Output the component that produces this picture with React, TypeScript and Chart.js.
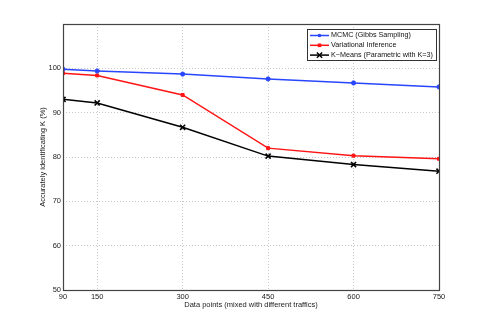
import React, { useEffect, useRef } from "react";
import { Chart, registerables } from "chart.js";

Chart.register(...registerables);

const xValues = [90, 150, 300, 450, 600, 750];
const mcmc = [99.8, 99.4, 98.7, 97.6, 96.7, 95.8];
const variational = [98.9, 98.4, 94.0, 82.0, 80.3, 79.6];
const kmeans = [93.0, 92.2, 86.7, 80.2, 78.3, 76.8];
const seriesLabels = [
  "MCMC (Gibbs Sampling)",
  "Variational Inference",
  "K\u2212Means (Parametric with K=3)",
];
const xTicks = [90, 150, 300, 450, 600, 750];
const yTicks = [50, 60, 70, 80, 90, 100, 110];

const FONT = "'Liberation Sans', Arial, Helvetica, sans-serif";

const boxPlugin = {
  id: "boxAndLegend",
  afterDraw(chart: any) {
    const { ctx, chartArea } = chart;
    const { left, right, top, bottom } = chartArea;
    ctx.save();
    ctx.strokeStyle = "#444";
    ctx.lineWidth = 1.2;
    ctx.strokeRect(Math.round(left) + 0.5, Math.round(top) + 0.5, Math.round(right - left), Math.round(bottom - top));
    const bx = 307.5, by = 29.5, bw = 129, bh = 31;
    ctx.fillStyle = "#fff";
    ctx.fillRect(bx, by, bw, bh);
    ctx.strokeStyle = "#333";
    ctx.lineWidth = 1;
    ctx.strokeRect(bx, by, bw, bh);
    ctx.font = `7.2px ${FONT}`;
    ctx.textBaseline = "middle";
    chart.data.datasets.forEach((ds: any, i: number) => {
      const y = 35.5 + i * 9.8;
      ctx.strokeStyle = ds.borderColor;
      ctx.lineWidth = 1.5;
      ctx.beginPath();
      ctx.moveTo(310, y);
      ctx.lineTo(329, y);
      ctx.stroke();
      const cx = 319.5;
      ctx.fillStyle = ds.borderColor;
      if (ds.pointStyle === "circle") {
        ctx.beginPath();
        ctx.arc(cx, y, 1.8, 0, Math.PI * 2);
        ctx.fill();
      } else if (ds.pointStyle === "rect") {
        ctx.fillRect(cx - 1.8, y - 1.8, 3.6, 3.6);
      } else {
        ctx.lineWidth = 1.5;
        ctx.beginPath();
        ctx.moveTo(cx - 2.6, y - 2.6);
        ctx.lineTo(cx + 2.6, y + 2.6);
        ctx.moveTo(cx - 2.6, y + 2.6);
        ctx.lineTo(cx + 2.6, y - 2.6);
        ctx.stroke();
      }
      ctx.fillStyle = "#111";
      ctx.textAlign = "left";
      ctx.fillText(ds.label, 331, y);
    });
    ctx.restore();
  },
};

export default function App() {
  const ref = useRef<HTMLCanvasElement>(null);
  useEffect(() => {
    document.body.style.margin = "0";
    const canvas = ref.current!;
    const mk = (vals: number[]) => vals.map((v, i) => ({ x: xValues[i], y: v }));
    const chart = new Chart(canvas, {
      type: "line",
      data: {
        datasets: [
          {
            label: seriesLabels[0],
            data: mk(mcmc),
            borderColor: "rgb(40,70,255)",
            backgroundColor: "rgb(40,70,255)",
            pointStyle: "circle",
            pointRadius: 2.1,
            borderWidth: 1.5,
            pointBorderWidth: 1,
          },
          {
            label: seriesLabels[1],
            data: mk(variational),
            borderColor: "rgb(255,20,20)",
            backgroundColor: "rgb(255,20,20)",
            pointStyle: "rect",
            pointRadius: 2.1,
            borderWidth: 1.5,
            pointBorderWidth: 1,
          },
          {
            label: seriesLabels[2],
            data: mk(kmeans),
            borderColor: "#000",
            backgroundColor: "#000",
            pointStyle: "crossRot",
            pointRadius: 3.6,
            borderWidth: 1.5,
            pointBorderWidth: 1.6,
          },
        ],
      },
      options: {
        responsive: false,
        animation: false,
        layout: { padding: { left: 0, right: 46, top: 24, bottom: 0 } },
        plugins: { legend: { display: false }, tooltip: { enabled: false } },
        scales: {
          x: {
            type: "linear",
            min: 90,
            max: 750,
            afterBuildTicks: (s: any) => {
              s.ticks = xTicks.map((v) => ({ value: v }));
            },
            afterFit: (s: any) => {
              s.height = 36;
            },
            ticks: {
              padding: 2,
              color: "#222",
              font: { family: FONT, size: 7.5 },
              maxRotation: 0,
              autoSkip: false,
            },
            grid: {
              color: "#bbb",
              lineWidth: 0.8,
              drawTicks: false,
            },
            border: { display: false, dash: [1, 2] },
            title: {
              display: true,
              text: "Data points (mixed with different traffics)",
              color: "#222",
              font: { family: FONT, size: 7.5 },
              padding: { top: 0, bottom: 17 },
            },
          },
          y: {
            type: "linear",
            min: 50,
            max: 110,
            afterBuildTicks: (s: any) => {
              s.ticks = yTicks.map((v) => ({ value: v }));
            },
            afterFit: (s: any) => {
              s.width = 63;
            },
            ticks: {
              padding: 2,
              color: "#222",
              font: { family: FONT, size: 7.5 },
              callback: (v: any) => (v === 110 ? "" : String(v)),
            },
            grid: {
              color: "#bbb",
              lineWidth: 0.8,
              drawTicks: false,
            },
            border: { display: false, dash: [1, 2] },
            title: {
              display: true,
              text: "Accurately identificating K (%)",
              color: "#222",
              font: { family: FONT, size: 7.5 },
              padding: { top: 38, bottom: 0 },
            },
          },
        },
      },
      plugins: [boxPlugin],
    });
    return () => chart.destroy();
  }, []);
  return <canvas ref={ref} width={485} height={326} style={{ display: "block" }} />;
}
